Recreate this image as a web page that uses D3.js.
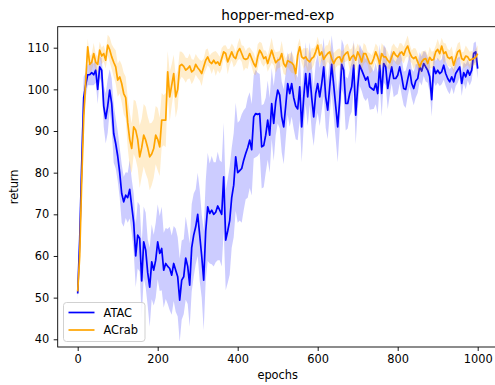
<!DOCTYPE html>
<html>
<head>
<meta charset="utf-8">
<script src="https://cdn.jsdelivr.net/npm/d3@7/dist/d3.min.js"></script>
<style>
  html, body { margin: 0; padding: 0; background: #fff; }
  svg { display: block; font-family: 'DejaVu Sans', sans-serif; }
</style>
</head>
<body>
<svg id="chart" width="495" height="385"></svg>
<script>
// epochs 0..1000, step 5
const epochs = d3.range(0, 1001, 5);

const atacMean = [
  51, 64, 82, 98, 101, 103.5, 103.5, 104, 103.5, 104.6, 100, 105.4, 104.6,
  96, 93, 96, 99.8, 96.6, 89.4, 87, 84,
  80, 75, 73, 74.6, 74, 76, 72, 68, 60, 65,
  64.2, 54, 63.4, 61.4, 56, 52.5, 58.6, 56.6, 59, 63.4,
  60.6, 61.8, 56.6, 58.2, 57.5, 57, 55.4, 58.2, 56.6, 55,
  49.4, 54.2, 55, 59.5, 57.5, 53, 62, 65, 67, 70,
  65, 60, 54.2, 66, 71.8, 70.2, 71, 70, 70.5, 72,
  71, 70, 79, 63.8, 66, 68.5, 74, 77, 83.8, 80,
  80.5, 81, 83, 84.6, 86, 87.8, 85.5, 93.4, 94.2, 94,
  94.2, 86.2, 86.5, 89, 92.6, 89, 96.6, 91.8, 97, 99.8,
  98.6, 93.4, 91, 96, 101.4, 99, 101.4, 98, 96, 95.3,
  100.6, 91, 98, 103.8, 98.2, 103.8, 98, 93.4, 99, 101.4,
  98.2, 101.4, 105.4, 98.2, 95, 100.6, 106, 101, 96, 91,
  97.4, 106, 104.6, 96.6, 96.6, 99, 100.6, 105.8, 93.8, 100.6,
  105.8, 104.6, 103.4, 102.2, 103, 100.6, 100.2, 99.8, 101.4, 99,
  105.8, 99, 106.2, 105.4, 100.2, 103, 105.4, 102.6, 102.6, 103.4,
  105.4, 103, 100.2, 100, 102.4, 104.6, 101.4, 100.2, 102, 102.6,
  105.4, 104.4, 106.2, 105.4, 104.6, 103, 97.5, 105.4, 103.8, 104.6,
  103.8, 104.2, 105.8, 103.8, 102.6, 101.8, 103, 101.8, 103.8, 104.6,
  105.4, 101.4, 104, 103, 104.6, 103.4, 104.6, 108.6, 109, 105
];

const atacStd = [
  1.5, 5, 8, 5,
  3, 2.5, 2.5, 3, 2.5, 3, 3.5, 2.5, 3,
  5, 6, 6.5, 5, 6, 7, 6, 6,
  6, 7, 6, 5.5, 6, 7, 6.5, 7, 7.5, 8,
  8, 9, 8.5, 9, 8, 9.5, 9, 8.5, 9, 9,
  9, 10, 9, 8.5, 9, 10, 9.5, 9, 10, 9.5,
  10, 9.5, 9, 10, 9, 10, 10.5, 10, 9, 10,
  11, 10, 12, 12, 13, 12, 13, 12.5, 12, 13,
  12, 12.5, 13, 12, 12.5, 13, 12, 12.5, 13, 12,
  12, 13, 12, 11, 12, 11.5, 11, 10, 10.5, 10,
  9.5, 10, 10, 9, 9.5, 9, 8.5, 9, 8, 8,
  8, 8.5, 9, 8, 7.5, 8, 8, 7.5, 8, 7.5,
  8, 8.5, 7, 7.5, 7, 7.5, 8, 7, 7.5, 7,
  7, 6.5, 7, 7.5, 7, 6.5, 7, 7.5, 8, 8.5,
  7, 6, 6, 6.5, 6, 5.5, 6, 6, 7, 5.5,
  5, 5, 5.5, 5, 5, 5.5, 5, 4.5, 5, 5,
  5, 5.5, 4.5, 4.5, 5, 4.5, 4, 4.5, 4, 4.5,
  4, 4.5, 4, 4.5, 4, 4, 3.5, 4, 4, 3.5,
  3.5, 3.5, 3, 3.5, 3, 3.5, 4, 3.5, 3, 3,
  3, 3, 3.5, 3, 3, 3, 2.5, 3, 3, 3,
  2.5, 3, 2.5, 3, 2.5, 2.5, 2.5, 2.5, 2.5, 2.5
];

const acrabMean = [
  51.5, 60, 78, 93, 102, 110.2, 106, 106.5, 108.6, 106.5, 106, 109.4, 108,
  108.6, 107, 110.6, 109.5, 107.8, 106.5, 105.4, 102.2,
  103, 101.4, 99, 98, 92, 88, 85.8, 91, 90.2, 88,
  83.8, 86, 89, 87.8, 86, 83.8, 84.5, 85.8, 89, 88,
  86.2, 92.6, 92.6, 92.6, 104.2, 98.2, 101, 103.8, 98.2, 100,
  105.6, 106, 105.5, 104.6, 105, 105.6, 104.2, 104.6, 106, 105.2,
  104.6, 103.8, 105.4, 107, 107.8, 106.6, 106.2, 107, 106.2, 106.6,
  105.8, 107.4, 109, 108.6, 106.6, 107.8, 109, 107.8, 107.4, 109,
  109.8, 108.6, 107.4, 107.2, 107.4, 108.6, 107.4, 106.2, 105.4, 107.8,
  109.4, 108.6, 107.4, 107.8, 106.2, 107.8, 109.4, 107.8, 106.4, 107,
  107.2, 108.6, 106.2, 105.4, 106.9, 106.6, 106.4, 105.8, 103.8, 108.2,
  110.2, 107.8, 107.4, 107.8, 107, 106.6, 107.4, 107.8, 109, 110.6,
  108.2, 109, 107.2, 108, 108.6, 109, 107.4, 106.2, 107.2, 107.7,
  107.8, 106.6, 108, 108.6, 109, 107, 107.8, 108.2, 107, 109,
  108, 106.6, 108.6, 108.6, 107.4, 106.2, 106.2, 107.4, 109, 107.8,
  106.1, 108.6, 107.8, 107.8, 107, 106.4, 107.8, 109, 108.2, 107.8,
  108.6, 109, 108.2, 109.6, 110.4, 108.8, 107.8, 107.4, 107.8, 106.6,
  105.4, 106.6, 107.2, 107.4, 106.2, 107.7, 107, 107.2, 109, 109.6,
  108.6, 110.4, 108.6, 109, 107.7, 107.4, 107.8, 105.8, 107.4, 109,
  109.4, 107.4, 107, 108, 107.8, 107, 107.2, 107.4, 107.7, 108.6
];

const acrabStd = [
  1, 2, 3, 3,
  2.5, 2, 2, 2, 2.5, 2, 2, 2, 2,
  2, 2, 2.5, 3, 3, 3.5, 4, 4,
  4, 4.5, 5, 5, 6, 6.5, 6, 6.5, 7, 7,
  7.5, 7, 7.5, 8, 7.5, 8, 7.5, 7, 7, 7.5,
  7, 6.5, 6, 6.5, 5, 6, 5, 4.5, 5, 4.5,
  3.5, 3, 3, 3, 2.5, 3, 3, 2.5, 2.5, 2.5,
  2.5, 3, 2, 2.5, 2, 1.5, 2.5, 2, 3, 2,
  2, 2.5, 1.5, 2, 3, 2, 2, 2.5, 1.5, 2,
  2.5, 2, 3, 2, 2.5, 1.5, 2, 2.5, 2, 3,
  2, 2.5, 2, 1.5, 2, 2.5, 3, 2, 2.5, 2,
  2, 3, 2.5, 2, 1.5, 2, 2.5, 2, 2, 2.5,
  2, 1.5, 2.5, 2, 3, 2, 2.5, 2, 1.5, 2,
  2.5, 2, 2, 2.5, 2, 3, 2, 2.5, 2, 2,
  2, 2.5, 1.5, 2, 2, 2.5, 2, 3, 2.5, 2,
  2, 2, 2.5, 2, 1.5, 2.5, 2, 2, 2, 2.5,
  2, 2.5, 2.5, 2, 2, 1.5, 2.5, 2, 2, 2,
  2.5, 2, 2, 2, 2.5, 2, 1.5, 2.5, 2, 2,
  2, 2.5, 2, 2, 2, 2.5, 2, 2, 1.5, 2.5,
  2, 2, 2.5, 2, 2, 2, 2.5, 2, 2, 2,
  2, 1.5, 2, 2.5, 2, 2, 2, 1.5, 2, 2
];

const xTicks = [0, 200, 400, 600, 800, 1000];
const yTicks = [40, 50, 60, 70, 80, 90, 100, 110];

const series = [
  { name: 'ATAC', mean: atacMean, std: atacStd, color: '#0000ff' },
  { name: 'ACrab', mean: acrabMean, std: acrabStd, color: '#ffa500' },
];

const plot = { left: 57.7, right: 497.7, top: 26.7, bottom: 347 };

const x = d3.scaleLinear().domain([-50, 1050]).range([plot.left, plot.right]);
const y = d3.scaleLinear().domain([38.15, 115.04]).range([plot.bottom, plot.top]);

const svg = d3.select('#chart');

const marks = svg.append('g').attr('class', 'marks');

series.forEach((s) => {
  const rows = epochs.map((e, i) => ({ e, m: s.mean[i], sd: s.std[i] }));
  marks
    .append('path')
    .datum(rows)
    .attr('fill', s.color)
    .attr('fill-opacity', 0.2)
    .attr('d', d3.area()
      .x((d) => x(d.e))
      .y0((d) => y(d.m - d.sd))
      .y1((d) => y(d.m + d.sd)));
  marks
    .append('path')
    .datum(rows)
    .attr('fill', 'none')
    .attr('stroke', s.color)
    .attr('stroke-width', 1.7)
    .attr('stroke-linejoin', 'round')
    .attr('d', d3.line().x((d) => x(d.e)).y((d) => y(d.m)));
});

// axes
const xAxis = svg
  .append('g')
  .attr('transform', `translate(0,${plot.bottom})`)
  .call(d3.axisBottom(x).tickValues(xTicks).tickFormat(d3.format('d'))
    .tickSize(4).tickPadding(4).tickSizeOuter(0));
const yAxis = svg
  .append('g')
  .attr('transform', `translate(${plot.left},0)`)
  .call(d3.axisLeft(y).tickValues(yTicks).tickFormat(d3.format('d'))
    .tickSize(4).tickPadding(4.5).tickSizeOuter(0));

[xAxis, yAxis].forEach((ax) => {
  ax.select('.domain').remove();
  ax.selectAll('line').attr('stroke', '#000').attr('stroke-width', 0.9);
  ax.selectAll('text')
    .attr('fill', '#000')
    .attr('font-size', 11.4)
    .attr('font-family', 'DejaVu Sans, sans-serif');
});

svg
  .append('rect')
  .attr('x', plot.left)
  .attr('y', plot.top)
  .attr('width', plot.right - plot.left)
  .attr('height', plot.bottom - plot.top)
  .attr('fill', 'none')
  .attr('stroke', '#000')
  .attr('stroke-width', 0.9);

svg
  .append('text')
  .attr('x', (plot.left + plot.right) / 2)
  .attr('y', 20)
  .attr('text-anchor', 'middle')
  .attr('font-size', 13.7)
  .text('hopper-med-exp');

svg
  .append('text')
  .attr('x', (plot.left + plot.right) / 2)
  .attr('y', 379)
  .attr('text-anchor', 'middle')
  .attr('font-size', 11.4)
  .text('epochs');

svg
  .append('text')
  .attr('transform', `translate(18,${(plot.top + plot.bottom) / 2}) rotate(-90)`)
  .attr('text-anchor', 'middle')
  .attr('font-size', 11.4)
  .text('return');

// legend
const legend = svg.append('g').attr('transform', 'translate(63.5,302.5)');
legend
  .append('rect')
  .attr('width', 81.5)
  .attr('height', 39)
  .attr('rx', 3)
  .attr('fill', '#fff')
  .attr('fill-opacity', 0.8)
  .attr('stroke', '#cccccc')
  .attr('stroke-width', 0.9);

series.forEach((s, i) => {
  const row = legend.append('g').attr('transform', `translate(0,${10 + i * 17.5})`);
  row
    .append('line')
    .attr('x1', 5)
    .attr('x2', 31)
    .attr('stroke', s.color)
    .attr('stroke-width', 1.7);
  row
    .append('text')
    .attr('x', 40)
    .attr('y', 4.2)
    .attr('font-size', 11.4)
    .text(s.name);
});
</script>
</body>
</html>
